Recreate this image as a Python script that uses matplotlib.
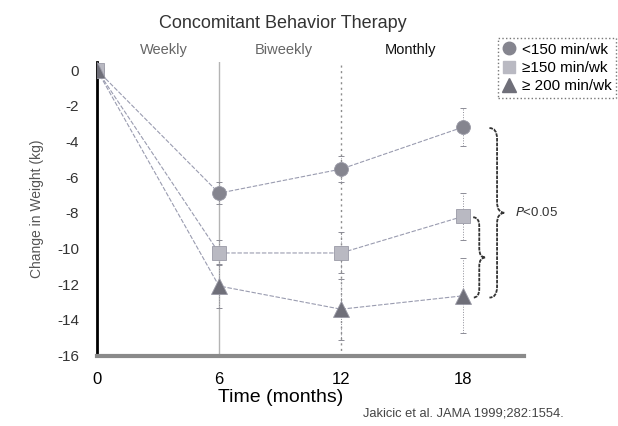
import matplotlib.pyplot as plt
import matplotlib.transforms as mtransforms
from matplotlib.path import Path
from matplotlib.patches import PathPatch
from matplotlib.lines import Line2D

plt.rcParams['font.family'] = ['Liberation Sans', 'DejaVu Sans']
plt.rcParams['axes.unicode_minus'] = False

months = [0, 6, 12, 18]

# 体重変化 (kg) と誤差
lt150 = [0, -6.9, -5.55, -3.2]
lt150_err = [0, 0.62, 0.75, 1.05]
ge150 = [0, -10.25, -10.25, -8.2]
ge150_err = [0, 0.7, 1.15, 1.3]
ge200 = [0, -12.1, -13.4, -12.65]
ge200_err = [0, 1.25, 1.7, 2.1]

series_labels = ['<150 min/wk', '\u2265150 min/wk', '\u2265 200 min/wk']
phase_labels = ['Weekly', 'Biweekly', 'Monthly']
phase_x = [3.3, 9.2, 15.4]
yticks = [0, -2, -4, -6, -8, -10, -12, -14, -16]

c_circ = '#85858f'
c_sq = '#b9b9c2'
c_tri = '#6f6f79'
c_line = '#9a9cb0'

fig = plt.figure(figsize=(6.18, 4.26), dpi=100)
ax = fig.add_axes([97/618, 1-355.6/426, 427/618, 293.6/426])
ax.set_xlim(0, 21.0)
ax.set_ylim(-16, 0.45)

# 期間の区切り線
ax.axvline(6, color='#b4b4b4', lw=1.0, zorder=1)
ax.axvline(12, color='#8c8c8c', lw=1.0, ls=(0, (1.5, 2.5)), zorder=1)

def draw_series(y, err, marker, color, ms):
    ax.plot(months, y, '-', color=c_line, lw=0.8, ls=(0, (4, 1.5)), zorder=2)
    eb = ax.errorbar(months[1:], y[1:], yerr=err[1:], fmt='none', ecolor='#8c8c96',
                     elinewidth=0.7, capsize=2.5, capthick=0.7, zorder=2)
    eb[2][0].set_linestyle(':')
    ax.plot(months, y, marker, color=color, ms=ms, mec='#9a9aa6', mew=0.6,
            ls='none', zorder=3)

draw_series(lt150, lt150_err, 'o', c_circ, 10)
draw_series(ge150, ge150_err, 's', c_sq, 9.5)
draw_series(ge200, ge200_err, '^', c_tri, 11)

for s in ['top', 'right']:
    ax.spines[s].set_visible(False)
ax.spines['left'].set_linewidth(2.0)
ax.spines['left'].set_color('black')
ax.spines['bottom'].set_linewidth(3.0)
ax.spines['bottom'].set_color('#8a8a8a')

ax.set_xticks(months)
ax.set_yticks(yticks)
ax.tick_params(axis='x', length=0, pad=12, labelsize=12)
ax.tick_params(axis='y', length=0, pad=13, labelsize=11, labelcolor='#333333')

fig.text(281/618, 1-397/426, 'Time (months)', ha='center', va='center', fontsize=14)
ax.set_ylabel('Change in Weight (kg)', fontsize=10, color='#555555', labelpad=9)

fig.text(283/618, 1-23/426, 'Concomitant Behavior Therapy', ha='center', va='center',
         fontsize=13, color='#333333')
trans = mtransforms.blended_transform_factory(ax.transData, fig.transFigure)
for lab, px in zip(phase_labels, phase_x):
    ax.text(px, 1-50/426, lab, transform=trans, ha='center', va='center', fontsize=10.5,
            color='#111111' if lab == 'Monthly' else '#666666')

fig.text(363/618, 1-413/426, 'Jakicic et al. JAMA 1999;282:1554.', ha='left', va='center',
         fontsize=9.3, color='#444444')

# 中括弧
def brace(x, ytop, ybot, w, d):
    ym = (ytop + ybot) / 2
    verts = [(x, ytop), (x + w/2, ytop), (x + w/2, ytop - d),
             (x + w/2, ym + d),
             (x + w/2, ym), (x + w, ym),
             (x + w/2, ym), (x + w/2, ym - d),
             (x + w/2, ybot + d),
             (x + w/2, ybot), (x, ybot)]
    codes = [Path.MOVETO, Path.CURVE3, Path.CURVE3, Path.LINETO,
             Path.CURVE3, Path.CURVE3, Path.CURVE3, Path.CURVE3,
             Path.LINETO, Path.CURVE3, Path.CURVE3]
    p = PathPatch(Path(verts, codes), fill=False, ec='#333333', lw=1.3,
                  ls=(0, (2, 0.6)), clip_on=False, zorder=4)
    ax.add_patch(p)
    return ym

ym_big = brace(19.3, lt150[-1] - 0.05, ge200[-1] - 0.1, 0.75, 0.6)
ax.text(20.55, ym_big, r'$P$<0.05', ha='left', va='center', fontsize=9.5,
        color='#333333', clip_on=False)
brace(18.5, ge150[-1] - 0.05, ge200[-1] - 0.1, 0.6, 0.5)

handles = [Line2D([], [], marker='o', color=c_circ, ls='none', ms=9),
           Line2D([], [], marker='s', color=c_sq, ls='none', ms=9),
           Line2D([], [], marker='^', color=c_tri, ls='none', ms=10)]
leg = ax.legend(handles, series_labels, loc='upper right',
                bbox_to_anchor=(616/618, 1-38/426), bbox_transform=fig.transFigure,
                fontsize=11, frameon=True, fancybox=False, handlelength=0.8,
                handletextpad=0.45, borderpad=0.3, labelspacing=0.28, borderaxespad=0)
leg.get_frame().set_linestyle(':')
leg.get_frame().set_edgecolor('#555555')
leg.get_frame().set_linewidth(1.0)

plt.savefig('out.png', dpi=100)
